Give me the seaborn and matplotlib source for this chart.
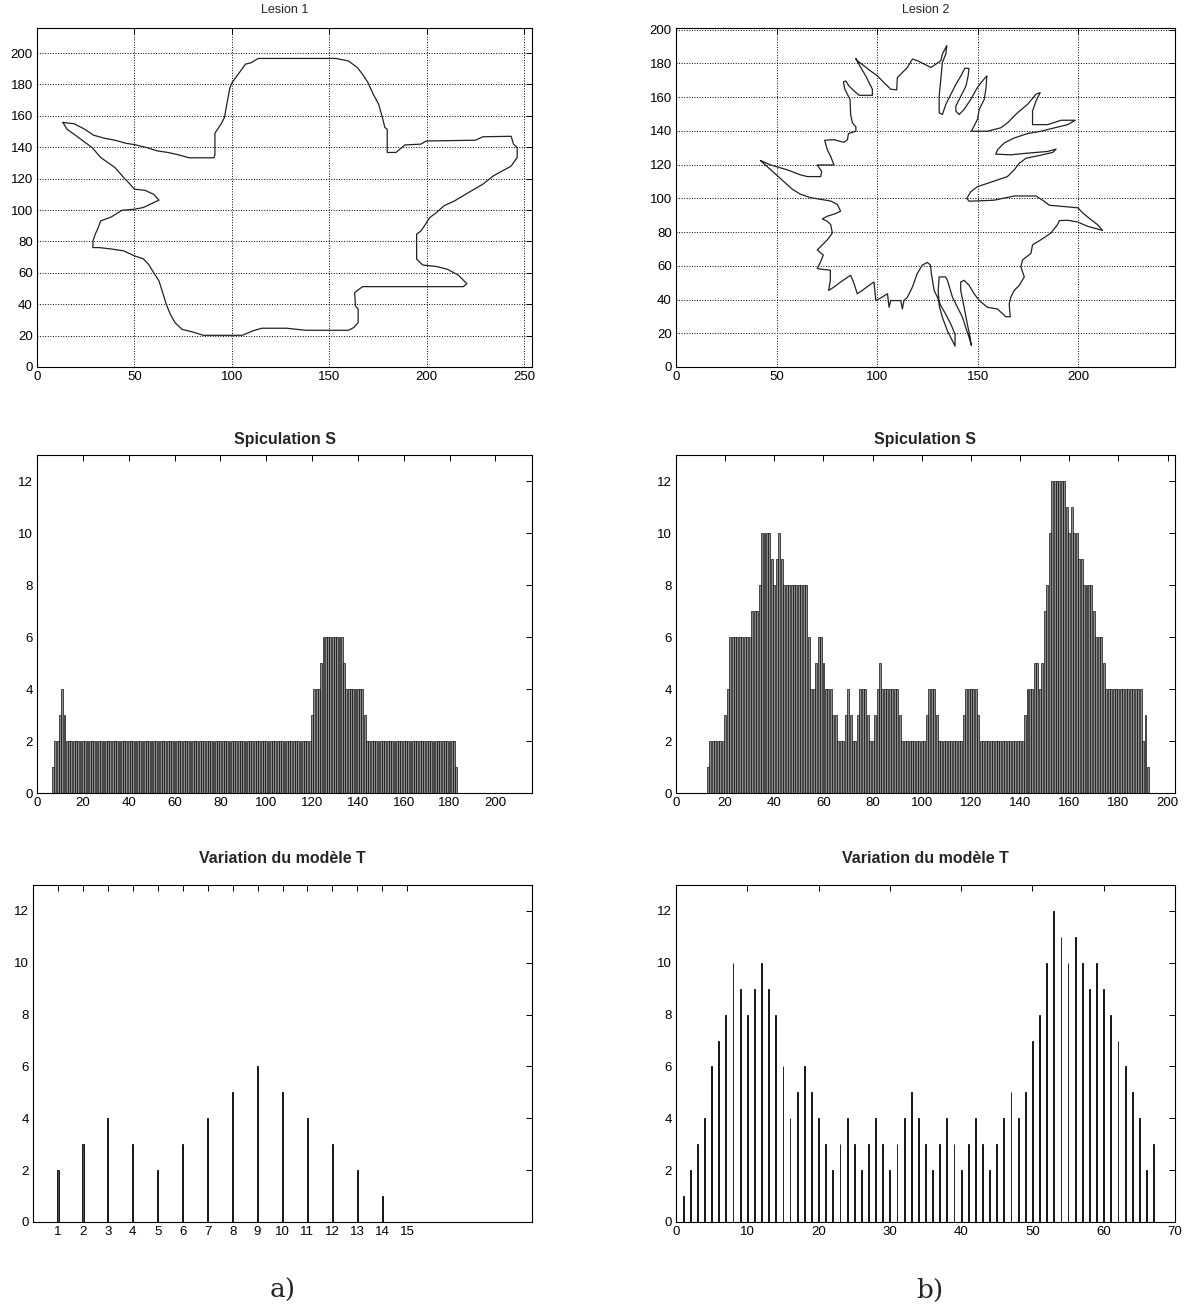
import pandas as pd
import seaborn as sns
import matplotlib.pyplot as plt

# --- contour of lesion 1 (pixel coords, clockwise, closed) ---
lesion1_x = [13.3, 19, 24.5, 29, 34.5, 40, 45.4, 50.8, 56.3, 61.7, 67.2, 72.6, 78, 90.8, 91.3, 91.3,
             94.4, 96.2, 97.1, 99, 100, 103.5, 107, 109.8, 113.5, 153.4, 159.8, 164.3, 167, 169.8,
             172.5, 175.3, 177, 178.5, 179.7, 179.7, 184.2, 188.8, 197, 199.7, 225, 228.8, 243.3,
             244.5, 246.4, 246.4, 243.3, 234.2, 228.8, 221.5, 214.2, 208.8, 205, 201.5, 198.8, 197,
             194.8, 194.8, 197.9, 205.1, 210.5, 216, 220.6, 218.8, 167, 163, 163.4, 164.8, 164.8,
             162.5, 159.8, 138, 128, 115.3, 110.7, 105.3, 85.3, 79.9, 74.4, 70.8, 68.4, 66.3, 64.5,
             62.6, 59.9, 57.2, 54.5, 50, 44.5, 38.1, 31.8, 28.7, 28.7, 29.9, 31.4, 32.7, 38.1, 43.6,
             49.9, 54.5, 59.9, 62.6, 59.9, 55.4, 49.9, 48.1, 44.5, 40, 36.3, 32.7, 28.3, 23.6, 19,
             15.4, 13.3]
lesion1_y = [155.8, 155, 151.5, 147.7, 145.8, 144.5, 142.6, 141.5, 139.8, 137.7, 136.7, 135.2, 133.3,
             133.3, 135.2, 149, 154.7, 159, 165.4, 178, 181, 187, 193, 193.8, 196.6, 196.6, 195,
             190.9, 186.6, 181.3, 173.9, 167.5, 160, 152.6, 151.5, 136.7, 136.7, 141.5, 142, 144,
             144.5, 146.7, 147, 142, 139.8, 133.5, 128, 121.8, 116.5, 111.2, 105.8, 102.7, 98.4,
             95.2, 89.9, 86.7, 84.6, 68.7, 65, 64, 62.3, 58.7, 53.1, 51.2, 51.2, 47.4, 38.9, 36.8,
             28.3, 25.1, 23.4, 23.4, 24.7, 24.7, 23, 20.2, 20.2, 22.3, 24, 28.3, 33.6, 40, 47.4,
             54.8, 60.1, 65.5, 69, 70.8, 74, 75.2, 76.1, 76.1, 80.3, 84.6, 88.8, 93.1, 95.6, 99.9,
             100.5, 101.6, 104.8, 106.3, 110, 112.6, 113.3, 116, 120.7, 127.1, 130.3, 133.5, 139.8,
             144.1, 148.3, 151.5, 155.8]

# --- contour of lesion 2 ---
lesion2_x = [42.0, 47.0, 55.3, 61.9, 65.3, 71.9, 72.4, 70.2, 78.5, 76.9, 75.2, 73.9, 78.5, 83.5, 85.2,
             85.7, 89.4, 89.4, 87.7, 86.8, 86.5, 85.2, 83.9, 83.2, 84.4, 86.0, 88.5, 91.0, 97.6, 97.6,
             96.0, 94.3, 91.8, 89.3, 90.1, 93.4, 95.9, 100.1, 103.4, 106.7, 109.7, 110.0, 112.5, 115.0,
             117.5, 120.0, 123.3, 126.7, 129.2, 131.6, 132.4, 134.6, 134.1, 132.4, 131.6, 130.8, 130.8,
             132.4, 134.1, 136.6, 139.1, 141.6, 143.6, 145.6, 145.2, 144.1, 141.6, 139.1, 139.1, 140.7,
             143.2, 146.5, 149.8, 152.3, 154.5, 154.0, 153.2, 150.7, 149.8, 146.8, 154.8, 161.4, 164.7,
             169.7, 174.7, 178.9, 181.0, 178.9, 177.2, 177.2, 184.7, 191.4, 198.4, 194.7, 188.1, 181.4,
             174.7, 168.1, 163.1, 159.8, 158.9, 166.4, 174.7, 184.7, 188.9, 187.2, 179.8, 174.0, 170.6,
             168.1, 164.7, 159.8, 154.8, 149.8, 146.5, 144.5, 145.7, 158.1, 168.1, 178.9, 182.2, 185.6,
             191.4, 199.7, 202.1, 206.2, 209.5, 212.0, 204.6, 199.6, 194.6, 190.5, 189.6, 186.3, 181.3,
             177.2, 176.4, 172.2, 171.4, 173.1, 170.6, 168.9, 168.1, 166.4, 165.6, 166.1, 163.9, 159.8,
             154.8, 150.7, 148.2, 145.7, 143.2, 141.5, 141.5, 143.2, 144.8, 146.2, 146.8, 145.7, 144.0,
             142.4, 139.9, 137.4, 134.9, 134.0, 130.8, 130.3, 130.8, 132.4, 134.9, 137.4, 138.7, 138.7,
             136.6, 134.0, 131.6, 129.9, 128.3, 126.9, 126.5, 124.9, 122.4, 119.9, 117.5, 115.0, 113.3,
             112.5, 111.7, 106.7, 105.9, 105.1, 101.0, 99.3, 98.4, 95.9, 92.6, 90.1, 88.5, 86.8, 81.8,
             78.5, 75.9, 76.7, 76.7, 73.5, 70.2, 71.9, 73.2, 70.2, 72.7, 75.2, 77.7, 76.9, 75.2, 72.7,
             75.2, 79.4, 81.8, 80.2, 76.9, 72.0, 66.9, 61.9, 57.8, 53.6, 47.0, 42.0]
lesion2_y = [122.4, 119.8, 116.9, 113.9, 112.9, 112.9, 115.9, 119.8, 119.8, 124.8, 128.8, 134.4, 134.8,
             133.2, 134.8, 138.4, 139.8, 142.4, 144.7, 149.7, 158.7, 161.7, 164.7, 169.0, 169.6, 166.6,
             163.7, 161.1, 161.1, 164.7, 168.6, 172.6, 177.6, 183.0, 181.6, 178.6, 176.2, 172.6, 168.6,
             164.7, 164.3, 171.6, 174.6, 177.6, 182.6, 181.6, 179.6, 177.6, 179.6, 181.6, 185.6, 190.6,
             185.6, 180.6, 170.6, 160.7, 150.7, 149.7, 155.7, 161.7, 167.6, 172.6, 177.2, 177.0, 172.6,
             166.6, 160.7, 154.7, 151.7, 149.7, 152.7, 158.7, 165.7, 169.6, 172.6, 164.7, 158.7, 152.7,
             146.7, 139.8, 139.8, 141.8, 144.7, 150.7, 155.7, 161.7, 162.7, 157.7, 151.7, 143.7, 143.7,
             146.3, 146.3, 143.7, 141.8, 139.8, 138.4, 135.8, 132.8, 128.8, 126.2, 125.8, 126.8, 127.8,
             129.2, 127.2, 125.2, 123.8, 120.8, 116.9, 112.9, 110.9, 108.9, 106.9, 103.9, 99.9, 98.3,
             98.9, 101.4, 101.4, 98.9, 95.9, 95.3, 94.4, 91.4, 87.4, 84.4, 81.0, 83.4, 86.0, 87.0, 86.8,
             84.4, 79.4, 75.4, 72.4, 67.4, 63.4, 59.4, 53.4, 48.4, 46.4, 45.4, 41.4, 37.4, 29.8, 29.8,
             34.4, 35.4, 39.4, 43.4, 48.4, 51.4, 50.4, 45.4, 35.4, 25.4, 17.4, 12.8, 17.4, 23.4, 29.4,
             35.4, 41.4, 51.4, 53.4, 53.4, 45.4, 36.4, 29.4, 21.4, 15.4, 12.4, 19.4, 25.4, 31.4, 36.4,
             41.4, 45.4, 55.4, 60.4, 62.0, 60.4, 55.4, 47.4, 41.4, 39.4, 34.4, 39.4, 39.4, 35.4, 43.4,
             40.4, 39.4, 50.4, 48.4, 45.4, 43.4, 49.4, 54.4, 50.4, 47.4, 45.4, 51.4, 57.4, 57.8, 58.4,
             62.4, 66.4, 69.4, 72.4, 75.4, 79.4, 84.4, 86.4, 87.8, 89.4, 91.0, 92.4, 96.4, 98.4, 99.4,
             100.4, 102.4, 105.4, 109.9, 116.9, 122.4]

# --- spiculation S, lesion 1 (positions 7..183) ---
spic1_pos = list(range(7, 184))
spic1_val = [1, 2, 2, 3, 4, 3,
             2, 2, 2, 2, 2, 2, 2, 2, 2, 2, 2, 2, 2, 2, 2, 2, 2, 2, 2, 2,
             2, 2, 2, 2, 2, 2, 2, 2, 2, 2, 2, 2, 2, 2, 2, 2, 2, 2, 2, 2,
             2, 2, 2, 2, 2, 2, 2, 2, 2, 2, 2, 2, 2, 2, 2, 2, 2, 2, 2, 2,
             2, 2, 2, 2, 2, 2, 2, 2, 2, 2, 2, 2, 2, 2, 2, 2, 2, 2, 2, 2,
             2, 2, 2, 2, 2, 2, 2, 2, 2, 2, 2, 2, 2, 2, 2, 2, 2, 2, 2, 2,
             2, 2, 2, 2, 2, 2, 2,
             3, 4, 4, 4, 5, 6, 6, 6, 6, 6, 6, 6, 6, 6, 5, 4, 4, 4, 4, 4, 4, 4, 4, 3,
             2, 2, 2, 2, 2, 2, 2, 2, 2, 2, 2, 2, 2, 2, 2, 2, 2, 2, 2, 2,
             2, 2, 2, 2, 2, 2, 2, 2, 2, 2, 2, 2, 2, 2, 2, 2, 2, 2, 2,
             1]

# --- spiculation S, lesion 2 (positions 13..192) ---
spic2_pos = list(range(13, 193))
spic2_val = [1, 2, 2, 2, 2, 2, 2, 3, 4, 6,
             6, 6, 6, 6, 6, 6, 6, 6, 7, 7,
             7, 8, 10, 10, 10, 10, 9, 8, 9, 10,
             9, 8, 8, 8, 8, 8, 8, 8, 8, 8,
             8, 6, 4, 4, 5, 6, 6, 5, 4, 4,
             4, 3, 3, 2, 2, 2, 3, 4, 3, 2,
             2, 3, 4, 4, 4, 3, 2, 2, 3, 4,
             5, 4, 4, 4, 4, 4, 4, 4, 3, 2,
             2, 2, 2, 2, 2, 2, 2, 2, 2, 3,
             4, 4, 4, 3, 2, 2, 2, 2, 2, 2,
             2, 2, 2, 2, 3, 4, 4, 4, 4, 4,
             3, 2, 2, 2, 2, 2, 2, 2, 2, 2,
             2, 2, 2, 2, 2, 2, 2, 2, 2, 3,
             4, 4, 4, 5, 5, 4, 5, 7, 8, 10,
             12, 12, 12, 12, 12, 12, 11, 10, 11, 10,
             10, 9, 9, 8, 8, 8, 8, 7, 6, 6,
             6, 5, 4, 4, 4, 4, 4, 4, 4, 4,
             4, 4, 4, 4, 4, 4, 4, 2, 3, 1]

# --- variation du modele T ---
var1_pos = [1, 2, 3, 4, 5, 6, 7, 8, 9, 10, 11, 12, 13, 14]
var1_val = [2, 3, 4, 3, 2, 3, 4, 5, 6, 5, 4, 3, 2, 1]
var1_ticks = [1, 2, 3, 4, 5, 6, 7, 8, 9, 10, 11, 12, 13, 14, 15]

var2_pos = list(range(1, 68))
var2_val = [1, 2, 3, 4, 6, 7, 8, 10, 9, 8,
            9, 10, 9, 8, 6, 4, 5, 6, 5, 4,
            3, 2, 3, 4, 3, 2, 3, 4, 3, 2,
            3, 4, 5, 4, 3, 2, 3, 4, 3, 2,
            3, 4, 3, 2, 3, 4, 5, 4, 5, 7,
            8, 10, 12, 11, 10, 11, 10, 9, 10, 9,
            8, 7, 6, 5, 4, 2, 3]

sns.set_theme(style="white")
plt.rcParams['font.family'] = ['Liberation Sans', 'DejaVu Sans']

fig = plt.figure(figsize=(11.84, 13.15), dpi=100)
W, H = 1184, 1315


def box(x0, x1, y0, y1):
    return fig.add_axes([x0 / W, 1 - y1 / H, (x1 - x0) / W, (y1 - y0) / H])


def matlab_look(ax):
    for s in ax.spines.values():
        s.set_visible(True)
        s.set_color('black')
        s.set_linewidth(0.8)
    ax.tick_params(direction='in', top=True, right=True, length=4, width=0.7,
                   labelsize=9.5, pad=3, colors='black')
    ax.set_xlabel('')
    ax.set_ylabel('')


# row 1: contours
ax = box(37, 532, 28, 367)
sns.lineplot(x=lesion1_x, y=lesion1_y, sort=False, estimator=None, color='#222222',
             linewidth=0.9, ax=ax)
ax.set_xlim(0, 254)
ax.set_ylim(0, 216)
ax.set_xticks(range(0, 251, 50))
ax.set_yticks(range(0, 201, 20))
ax.grid(True, linestyle=':', color='black', linewidth=0.7)
ax.set_title('Lesion 1', fontsize=9, pad=11)
matlab_look(ax)

ax = box(676, 1175, 28, 367)
sns.lineplot(x=lesion2_x, y=lesion2_y, sort=False, estimator=None, color='#222222',
             linewidth=0.9, ax=ax)
ax.set_xlim(0, 248)
ax.set_ylim(0, 201)
ax.set_xticks(range(0, 201, 50))
ax.set_yticks(range(0, 201, 20))
ax.grid(True, linestyle=':', color='black', linewidth=0.7)
ax.set_title('Lesion 2', fontsize=9, pad=11)
matlab_look(ax)

# row 2: spiculation
ax = box(37, 532, 455, 793)
sns.barplot(x=spic1_pos, y=spic1_val, native_scale=True, width=0.8, color='0.55',
            edgecolor='black', linewidth=0.45, saturation=1, errorbar=None, ax=ax)
ax.set_xlim(0, 216)
ax.set_ylim(0, 13)
ax.set_xticks(range(0, 201, 20))
ax.set_yticks(range(0, 13, 2))
ax.set_title('Spiculation S', fontsize=11.5, fontweight='bold', pad=8)
matlab_look(ax)

ax = box(676, 1175, 455, 793)
sns.barplot(x=spic2_pos, y=spic2_val, native_scale=True, width=0.8, color='0.55',
            edgecolor='black', linewidth=0.45, saturation=1, errorbar=None, ax=ax)
ax.set_xlim(0, 203)
ax.set_ylim(0, 13)
ax.set_xticks(range(0, 201, 20))
ax.set_yticks(range(0, 13, 2))
ax.set_title('Spiculation S', fontsize=11.5, fontweight='bold', pad=8)
matlab_look(ax)

# row 3: variation du modele
ax = box(33, 532, 885, 1222)
sns.barplot(x=var1_pos, y=var1_val, native_scale=True, width=0.05, color='0.3',
            edgecolor='black', linewidth=0.6, saturation=1, errorbar=None, ax=ax)
ax.set_xlim(0, 20)
ax.set_ylim(0, 13)
ax.set_xticks(var1_ticks)
ax.set_yticks(range(0, 13, 2))
ax.set_title('Variation du modèle T', fontsize=11.5, fontweight='bold', pad=16)
matlab_look(ax)

ax = box(676, 1175, 885, 1222)
sns.barplot(x=var2_pos, y=var2_val, native_scale=True, width=0.12, color='0.3',
            edgecolor='black', linewidth=0.6, saturation=1, errorbar=None, ax=ax)
ax.set_xlim(0, 70)
ax.set_ylim(0, 13)
ax.set_xticks(range(0, 71, 10))
ax.set_yticks(range(0, 13, 2))
ax.set_title('Variation du modèle T', fontsize=11.5, fontweight='bold', pad=16)
matlab_look(ax)

fig.text(283 / W, 1 - 1290 / H, 'a)', ha='center', va='center', fontsize=19,
         family=['DejaVu Serif'])
fig.text(930 / W, 1 - 1290 / H, 'b)', ha='center', va='center', fontsize=19,
         family=['DejaVu Serif'])

fig.savefig('out.png', dpi=100, facecolor='white')
